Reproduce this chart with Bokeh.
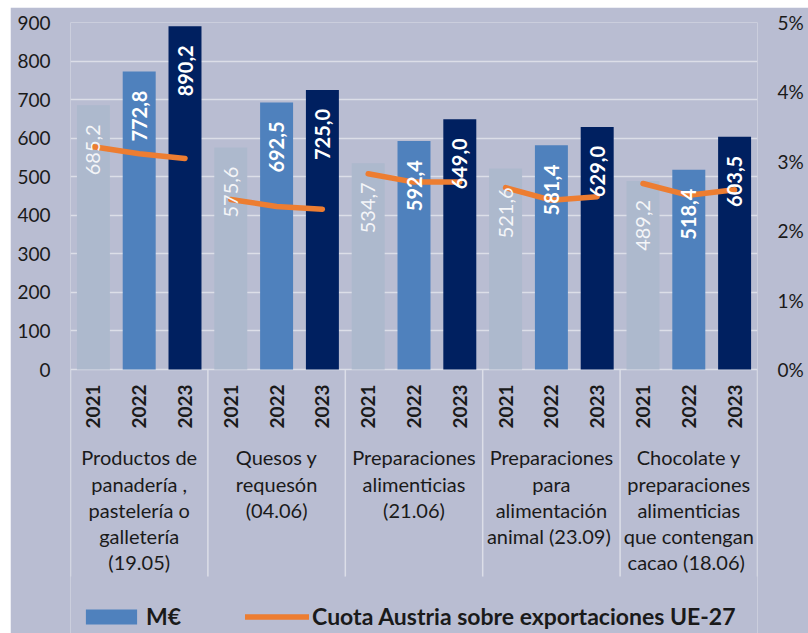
from math import pi
from bokeh.plotting import figure
from bokeh.models import (ColumnDataSource, Range1d, LinearAxis, FixedTicker,
                          PrintfTickFormatter, Legend, LegendItem)
from bokeh.core.properties import value
from bokeh.embed import file_html
from bokeh.resources import INLINE

# ---------------- data ----------------
categories = [
    "Productos de\npanadería ,\npastelería o\ngalletería\n(19.05)",
    "Quesos y\nrequesón\n(04.06)",
    "Preparaciones\nalimenticias\n(21.06)",
    "Preparaciones\npara\nalimentación\nanimal  (23.09)",
    "Chocolate y\npreparaciones\nalimenticias\nque contengan\ncacao  (18.06)",
]
years = ["2021", "2022", "2023"]
meur_2021 = [685.2, 575.6, 534.7, 521.6, 489.2]
meur_2022 = [772.8, 692.5, 592.4, 581.4, 518.4]
meur_2023 = [890.2, 725.0, 649.0, 629.0, 603.5]
cuota_2021 = [3.21, 2.45, 2.82, 2.62, 2.68]
cuota_2022 = [3.11, 2.35, 2.70, 2.44, 2.51]
cuota_2023 = [3.04, 2.31, 2.70, 2.49, 2.59]
left_ticks = [0, 100, 200, 300, 400, 500, 600, 700, 800, 900]
right_ticks = [0, 1, 2, 3, 4, 5]
legend_bar = "M€"
legend_line = "Cuota Austria sobre exportaciones UE-27"

# ---------------- style ----------------
FONT = "Lato"
BG = "#b9bdd2"
GRID = "#dcdee8"
BAR_COLORS = ["#adb9cd", "#4f81bd", "#002060"]
LABEL_COLORS = ["#f4f5f8", "#ffffff", "#ffffff"]
LABEL_STYLES = ["normal", "bold", "bold"]
ORANGE = "#ed7d31"
TEXT = "#1a1a1a"

Y_MAX = 900.0
Y_MIN = -684.7          # room below zero for year / category labels and legend
PCT_MAX = 5.0
PCT_MIN = Y_MIN * PCT_MAX / Y_MAX

n_groups = len(categories)
n_years = len(years)

p = figure(width=798, height=626,
           x_range=Range1d(0, n_groups * n_years),
           y_range=Range1d(Y_MIN, Y_MAX),
           output_backend="svg", toolbar_location=None,
           x_axis_location=None,
           min_border_left=60, min_border_right=51,
           min_border_top=15, min_border_bottom=0)
p.margin = (7, 0, 0, 10)
p.background_fill_color = BG
p.border_fill_color = BG
p.outline_line_color = None

# left axis
ax = p.left[0]
ax.ticker = FixedTicker(ticks=left_ticks)
ax.axis_line_color = None
ax.major_tick_line_color = None
ax.minor_tick_line_color = None
ax.major_tick_out = 0
ax.major_tick_in = 0
ax.minor_tick_out = 0
ax.major_label_standoff = 20
ax.major_label_text_font = FONT
ax.major_label_text_font_size = "19px"
ax.major_label_text_color = TEXT

# grid
p.xgrid.visible = False
p.ygrid.ticker = FixedTicker(ticks=left_ticks)
p.ygrid.grid_line_color = GRID
p.ygrid.grid_line_width = 1.5

# right axis
p.extra_y_ranges = {"pct": Range1d(PCT_MIN, PCT_MAX)}
rax = LinearAxis(y_range_name="pct", ticker=FixedTicker(ticks=right_ticks),
                 formatter=PrintfTickFormatter(format="%d%%"))
rax.axis_line_color = None
rax.major_tick_line_color = None
rax.minor_tick_line_color = None
rax.major_tick_out = 0
rax.major_tick_in = 0
rax.minor_tick_out = 0
rax.major_label_standoff = 20
rax.major_label_text_font = FONT
rax.major_label_text_font_size = "19px"
rax.major_label_text_color = TEXT
p.add_layout(rax, "right")

# group separators
sep_x = [g * n_years for g in range(n_groups + 1)]
p.segment(x0=sep_x, y0=[0] * len(sep_x), x1=sep_x, y1=[-537] * len(sep_x),
          line_color=GRID, line_width=1.5)

# bars
series = [meur_2021, meur_2022, meur_2023]
bar_renderers = []
for j, vals in enumerate(series):
    xs = [g * n_years + j + 0.5 for g in range(n_groups)]
    src = ColumnDataSource(dict(x=xs, top=vals,
                                lab=[f"{v:.1f}".replace(".", ",") for v in vals]))
    r = p.vbar(x="x", top="top", width=0.72, source=src,
               fill_color=BAR_COLORS[j], line_color=None)
    bar_renderers.append((r, src))

# share line (one segment per group)
cuotas = [cuota_2021, cuota_2022, cuota_2023]
line_xs = [[g * n_years + j + 0.5 for j in range(n_years)] for g in range(n_groups)]
line_ys = [[cuotas[j][g] for j in range(n_years)] for g in range(n_groups)]
line_r = p.multi_line(xs=line_xs, ys=line_ys, y_range_name="pct",
                      line_color=ORANGE, line_width=5.5,
                      line_cap="round", line_join="round")

# value labels inside bars
for j, (r, src) in enumerate(bar_renderers):
    p.text(x="x", y="top", text="lab", source=src, angle=pi / 2,
           text_align="right", text_baseline="middle", y_offset=19,
           text_font=value(FONT), text_font_size="20px",
           text_font_style=LABEL_STYLES[j], text_color=LABEL_COLORS[j])

# year labels
yx = [g * n_years + j + 0.5 for g in range(n_groups) for j in range(n_years)]
yt = [years[j] for g in range(n_groups) for j in range(n_years)]
p.text(x=yx, y=[-96] * len(yx), text=yt, angle=pi / 2,
       text_align="center", text_baseline="middle",
       text_font=value(FONT), text_font_size="19px", text_font_style="bold",
       text_color=TEXT)

# category labels
cx = [g * n_years + n_years / 2 for g in range(n_groups)]
p.text(x=cx, y=[-197] * n_groups, text=categories,
       text_align="center", text_baseline="top", text_line_height=1.09,
       text_font=value(FONT), text_font_size="20px", text_color=TEXT)

# legend
legend = Legend(items=[LegendItem(label=legend_bar, renderers=[bar_renderers[1][0]]),
                       LegendItem(label=legend_line, renderers=[line_r])],
                orientation="horizontal", location=(9, 3),
                background_fill_alpha=0, border_line_color=None,
                padding=0, margin=0, spacing=64, label_standoff=3,
                glyph_width=64, glyph_height=19,
                label_text_font=FONT, label_text_font_size="23px",
                label_text_font_style="bold", label_text_color=TEXT)
p.add_layout(legend)

open("out.html", "w").write(file_html(p, INLINE))
